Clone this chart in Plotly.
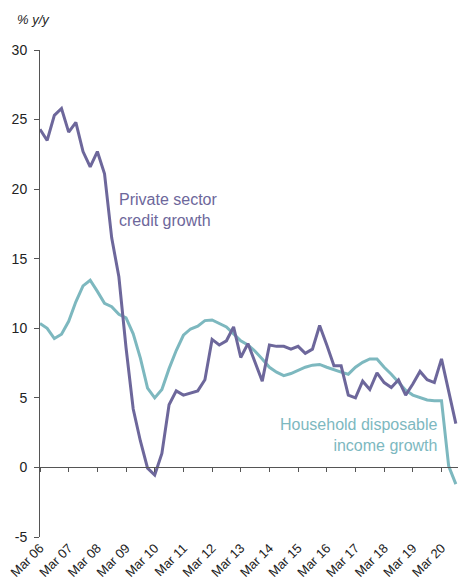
import plotly.graph_objects as go

years = ["06", "07", "08", "09", "10", "11", "12", "13", "14", "15", "16", "17", "18", "19", "20"]
months = ["Mar", "Jun", "Sep", "Dec"]
quarters = [f"{m} {y}" for y in years for m in months][:59]
tick_labels = [f"Mar {y}" for y in years]
y_ticks = [-5, 0, 5, 10, 15, 20, 25, 30]
y_tick_text = ["-5", "0", "5", "10", "15", "20", "25", "30"]

credit_growth = [24.3, 23.5, 25.3, 25.8, 24.1, 24.8, 22.7, 21.6, 22.7, 21.1,
                 16.5, 13.7, 8.6, 4.2, 1.9, -0.05, -0.55, 1.0, 4.5, 5.5,
                 5.2, 5.35, 5.5, 6.3, 9.2, 8.8, 9.1, 10.1, 7.9, 8.9,
                 7.5, 6.2, 8.8, 8.7, 8.7, 8.5, 8.7, 8.2, 8.5, 10.2,
                 8.8, 7.3, 7.3, 5.2, 5.0, 6.2, 5.6, 6.8, 6.1, 5.75,
                 6.3, 5.2, 6.0, 6.9, 6.3, 6.1, 7.8, 5.4, 3.15]

income_growth = [10.35, 10.0, 9.26, 9.57, 10.5, 11.9, 13.05, 13.45, 12.65, 11.8,
                 11.55, 11.0, 10.75, 9.6, 7.85, 5.7, 5.0, 5.6, 7.1, 8.4,
                 9.5, 9.95, 10.15, 10.55, 10.6, 10.35, 10.1, 9.6, 9.1, 8.8,
                 8.35, 7.8, 7.2, 6.85, 6.6, 6.75, 7.0, 7.2, 7.35, 7.4,
                 7.2, 7.0, 6.85, 6.7, 7.2, 7.55, 7.8, 7.8, 7.2, 6.7,
                 6.1, 5.55, 5.2, 5.0, 4.85, 4.8, 4.8, 0.1, -1.2]

purple = "#6D679B"
teal = "#7DB8BF"
font_family = "Liberation Sans Narrow, Liberation Sans, Arial, sans-serif"

x_idx = list(range(len(quarters)))
tick_idx = [quarters.index(t) for t in tick_labels]
xr = [0, 58.3]

fig = go.Figure()
fig.add_trace(go.Scatter(x=x_idx, y=income_growth, mode="lines", xaxis="x", yaxis="y",
                         line=dict(color=teal, width=3), name="Household disposable income growth"))
fig.add_trace(go.Scatter(x=x_idx, y=credit_growth, mode="lines", xaxis="x2", yaxis="y",
                         line=dict(color=purple, width=3), name="Private sector credit growth"))

fig.update_layout(
    width=465, height=586,
    margin=dict(l=40, r=7, t=50, b=49),
    paper_bgcolor="white", plot_bgcolor="white",
    showlegend=False,
    font=dict(family=font_family, color="#222222", size=14),
    xaxis=dict(range=xr, anchor="y", side="bottom",
               showline=False, ticks="", tickvals=tick_idx, ticktext=tick_labels,
               tickangle=-45, tickfont=dict(size=13, family=font_family, color="#222222"),
               showgrid=False, zeroline=False),
    xaxis2=dict(range=xr, overlaying="x", anchor="free", position=5 / 35, matches="x",
                showline=True, linecolor="#555555", linewidth=1, ticks="outside", ticklen=4,
                tickcolor="#555555", tickvals=tick_idx, showticklabels=False,
                showgrid=False, zeroline=False),
    yaxis=dict(range=[-5, 30], tickvals=y_ticks, ticktext=y_tick_text,
               showline=True, linecolor="#555555", linewidth=1,
               ticks="outside", ticklen=5, tickcolor="#555555", ticklabelstandoff=4,
               showgrid=False, zeroline=False,
               tickfont=dict(size=14, family=font_family, color="#222222")),
)

fig.add_annotation(text="<i>% y/y</i>", xref="paper", yref="paper",
                   x=-0.06, y=1.062, xanchor="left", yanchor="middle",
                   showarrow=False, font=dict(size=13, color="#222222"))
fig.add_annotation(text="Private sector<br>credit growth", xref="x", yref="y",
                   x=10.8, y=20.0, xanchor="left", yanchor="top", align="left",
                   showarrow=False, font=dict(size=16, color=purple, family="Liberation Sans, Arial"))
fig.add_annotation(text="Household disposable<br>income growth", xref="x", yref="y",
                   x=55.75, y=3.85, xanchor="right", yanchor="top", align="right",
                   showarrow=False, font=dict(size=16, color=teal, family="Liberation Sans, Arial"))

fig.write_html("out.html", config={"displayModeBar": False},
               post_script="document.body.style.margin='0px';")
